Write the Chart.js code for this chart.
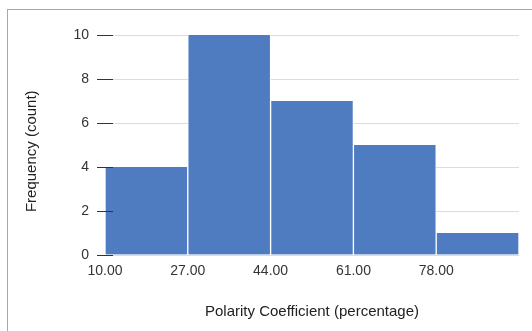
<!DOCTYPE html>
<html>
<head>
<meta charset="utf-8">
<script src="https://cdn.jsdelivr.net/npm/chart.js@4/dist/chart.umd.min.js"></script>
<style>
  html, body { margin: 0; padding: 0; background: #fff; }
  #frame {
    position: absolute; left: 7px; top: 9px;
    border-left: 1px solid #a8a8a8; border-top: 1px solid #a8a8a8;
    width: 524px; height: 321px;
  }
  canvas { display: block; }
</style>
</head>
<body>
<div id="frame"><canvas id="chartContainer" width="524" height="321"></canvas></div>
<script>
"use strict";

// 1: data
let binStarts = [10, 27, 44, 61, 78];
let binWidth = 17;
let counts = [4, 10, 7, 5, 1];
let xTicks = [10, 27, 44, 61, 78];
let yTicks = [0, 2, 4, 6, 8, 10];

// 2: prepare data for chart
function prepareData() {
  let points = [];
  for (let i = 0; i < binStarts.length; i++) {
    points.push({ x: binStarts[i] + binWidth / 2, y: counts[i] });
  }
  return points;
}

// y tick dashes reach a bit into the plot and sit on top of the bars
let tickDashes = {
  id: 'tickDashes',
  afterDatasetsDraw(chart) {
    let ctx = chart.ctx;
    let y = chart.scales.y;
    let left = chart.chartArea.left;
    ctx.save();
    ctx.strokeStyle = '#333';
    ctx.lineWidth = 1;
    for (const v of yTicks) {
      let py = Math.round(y.getPixelForValue(v)) + 0.5;
      ctx.beginPath();
      ctx.moveTo(left - 8, py);
      ctx.lineTo(left + 8, py);
      ctx.stroke();
    }
    ctx.restore();
  }
};

// 3: create the chart
let tickFont = { family: "'Liberation Sans', Arial, sans-serif", size: 14 };
let titleFont = { family: "'Liberation Sans', Arial, sans-serif", size: 15 };
let chartContainer = document.getElementById('chartContainer');
let chart = new Chart(chartContainer, {
  type: 'bar',
  data: {
    datasets: [{
      data: prepareData(),
      backgroundColor: '#4f7bc1',
      borderColor: '#ffffff',
      borderWidth: { left: 1, right: 1, top: 0, bottom: 0 },
      borderSkipped: false,
      barPercentage: 1,
      categoryPercentage: 1
    }]
  },
  plugins: [tickDashes],
  options: {
    responsive: false,
    animation: false,
    layout: { padding: { top: 25, right: 13, left: 0, bottom: 0 } },
    plugins: {
      legend: { display: false },
      tooltip: { enabled: false }
    },
    scales: {
      x: {
        type: 'linear',
        min: 10,
        max: 95,
        offset: false,
        grid: { display: false, drawTicks: false, tickLength: 0 },
        border: { display: false },
        afterBuildTicks: (scale) => {
          scale.ticks = xTicks.map(v => ({ value: v }));
        },
        afterFit: (scale) => { scale.height = 76; },
        ticks: {
          padding: 8,
          maxRotation: 0,
          autoSkip: false,
          color: '#333',
          font: tickFont,
          callback: (v) => Number(v).toFixed(2)
        },
        title: {
          display: true,
          text: 'Polarity Coefficient (percentage)',
          color: '#222',
          font: titleFont,
          padding: { top: 0, bottom: 10 }
        }
      },
      y: {
        min: 0,
        max: 10,
        afterBuildTicks: (scale) => {
          scale.ticks = yTicks.map(v => ({ value: v }));
        },
        afterFit: (scale) => { scale.width = 97; },
        grid: { color: '#dcdcdc', tickColor: '#333', tickLength: 8 },
        border: { display: false },
        ticks: {
          padding: 8,
          color: '#333',
          font: tickFont
        },
        title: {
          display: true,
          text: 'Frequency (count)   ',
          color: '#222',
          font: titleFont,
          padding: { top: 15, bottom: 0 }
        }
      }
    }
  }
});
</script>
</body>
</html>
